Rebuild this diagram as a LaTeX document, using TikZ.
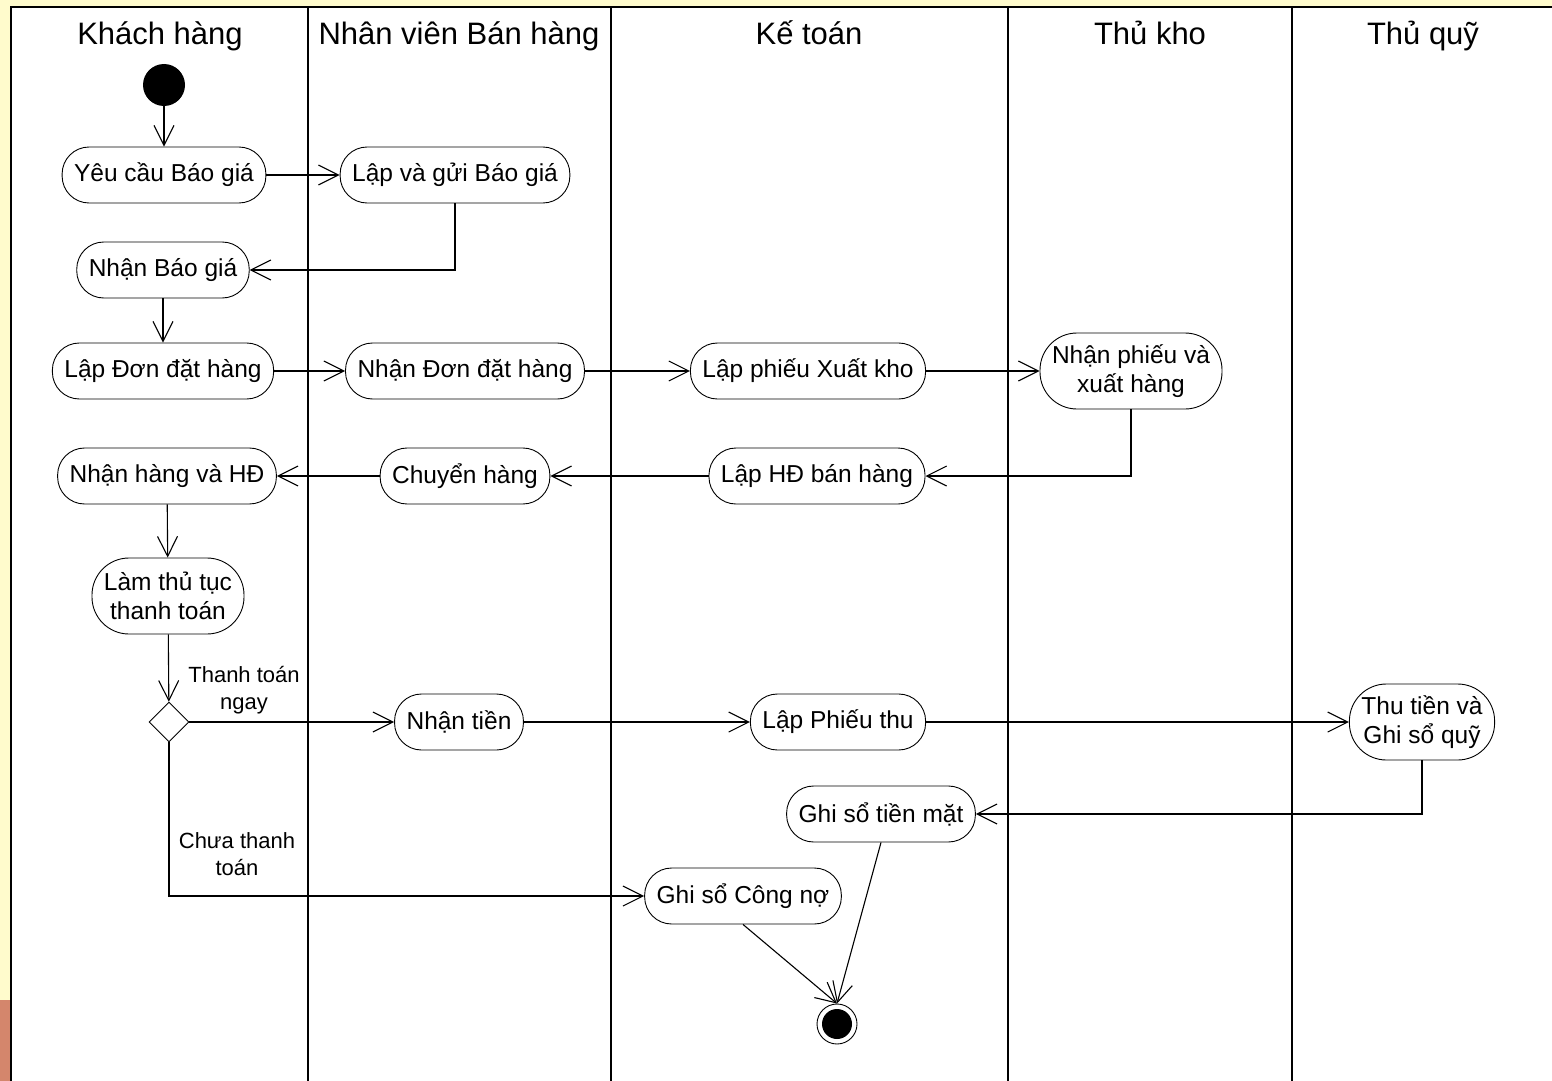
\documentclass[tikz,border=0pt]{standalone}
\usepackage{fontspec}
\setmainfont{Liberation Sans}
\usetikzlibrary{shapes.geometric,positioning,arrows.meta}
\definecolor{bgyellow}{RGB}{255,251,204}
\definecolor{edgebrown}{RGB}{212,134,108}

\begin{document}
\begin{tikzpicture}[x=1pt,y=-1pt,
  act/.style={draw,rectangle,rounded corners=27pt,minimum height=56pt,
    inner xsep=12pt,inner ysep=4pt,align=center,line width=0.9pt,
    font=\fontsize{24.5}{29}\selectfont},
  act2/.style={act,rounded corners=37pt,minimum height=76pt},
  lane/.style={anchor=base,font=\fontsize{31}{36}\selectfont},
  lbl/.style={align=center,font=\fontsize{22}{27}\selectfont},
  startnode/.style={circle,fill=black,minimum size=42pt,inner sep=0pt},
  endnode/.style={circle,draw,line width=0.9pt,minimum size=40pt,inner sep=0pt,
    path picture={\fill (path picture bounding box.center) circle (15pt);}},
  decision/.style={diamond,draw,line width=0.9pt,minimum size=40pt,inner sep=0pt},
  flow/.style={line width=1.1pt,-{Straight Barb[length=20pt,width=20pt]}},
  laneline/.style={line width=1.3pt}]

\useasboundingbox (0,0) rectangle (1552,1081);

% background and frame
\fill[bgyellow] (0,0) rectangle (1552,1081);
\fill[edgebrown] (0,1000) rectangle (11,1081);
\fill[white] (11,7) rectangle (1552,1081);
\draw[line width=1.6pt] (11,1081) -- (11,7) -- (1552,7);

\foreach \x in {308,611,1008,1292}{\draw[laneline] (\x,7) -- (\x,1081);}

\node[lane] (hkh) at (160,45) {Khách hàng};
\node[lane] (hnv) at (459,45) {Nhân viên Bán hàng};
\node[lane] (hkt) at (809,45) {Kế toán};
\node[lane] (htk) at (1150,45) {Thủ kho};
\node[lane] (htq) at (1423,45) {Thủ quỹ};

% activities
\node[startnode] (start) at (164,85) {};
\node[act] (ycbg) at (164,175) {Yêu cầu Báo giá};
\node[act] (lgbg) at (455,175) {Lập và gửi Báo giá};
\node[act] (nbg) at (163,270) {Nhận Báo giá};
\node[act] (lddh) at (163,371) {Lập Đơn đặt hàng};
\node[act] (nddh) at (465,371) {Nhận Đơn đặt hàng};
\node[act] (lpxk) at (808,371) {Lập phiếu Xuất kho};
\node[act2] (npxh) at (1131,371) {Nhận phiếu và\\xuất hàng};
\node[act] (lhd) at (817,476) {Lập HĐ bán hàng};
\node[act] (chh) at (465,476) {Chuyển hàng};
\node[act] (nhhd) at (167,476) {Nhận hàng và HĐ};
\node[act2] (lttt) at (168,596) {Làm thủ tục\\thanh toán};
\node[decision] (dec) at (169,722) {};
\node[act] (ntien) at (459,722) {Nhận tiền};
\node[act] (lpt) at (838,722) {Lập Phiếu thu};
\node[act2] (ttgsq) at (1422,722) {Thu tiền và\\Ghi sổ quỹ};
\node[act] (gstm) at (881,814) {Ghi sổ tiền mặt};
\node[act] (gscn) at (743,896) {Ghi sổ Công nợ};
\node[endnode] (stop) at (837,1024) {};

\node[lbl] (lngay) at (244,690) {Thanh toán\\ngay};
\node[lbl] (lchua) at (237,854) {Chưa thanh\\toán};

% flows
\draw[flow] (start) -- (ycbg);
\draw[flow] (ycbg) -- (lgbg);
\draw[flow] (lgbg) |- (nbg);
\draw[flow] (nbg) -- (lddh);
\draw[flow] (lddh) -- (nddh);
\draw[flow] (nddh) -- (lpxk);
\draw[flow] (lpxk) -- (npxh);
\draw[flow] (npxh) |- (lhd);
\draw[flow] (lhd) -- (chh);
\draw[flow] (chh) -- (nhhd);
\draw[flow] (nhhd) -- (lttt);
\draw[flow] (lttt) -- (dec);
\draw[flow] (dec) -- (ntien);
\draw[flow] (ntien) -- (lpt);
\draw[flow] (lpt) -- (ttgsq);
\draw[flow] (ttgsq) |- (gstm);
\draw[flow] (dec) |- (gscn);
\draw[flow] (gscn.south) -- (stop.north);
\draw[flow] (gstm.south) -- (stop.north);

\end{tikzpicture}
\end{document}
